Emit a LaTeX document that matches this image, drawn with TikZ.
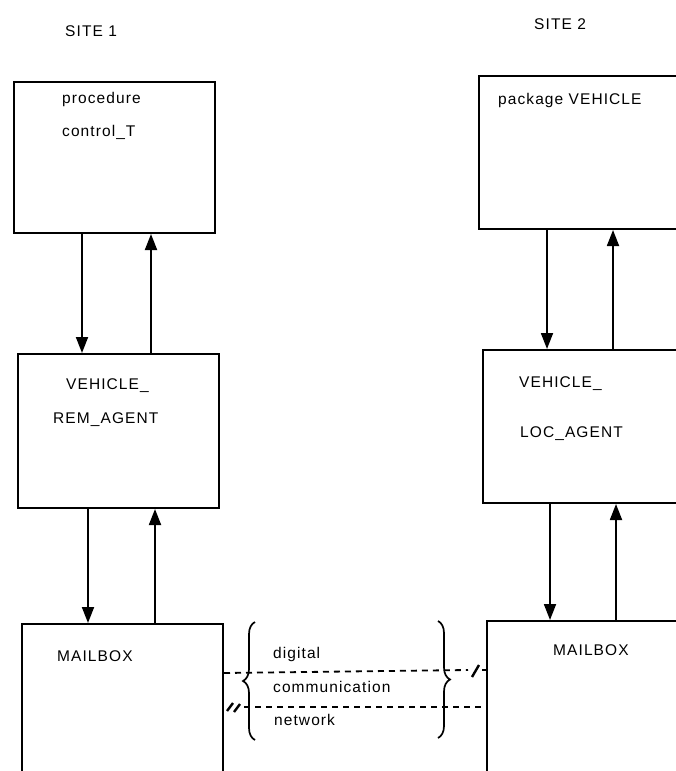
\documentclass[tikz,border=0pt]{standalone}
\usepackage{fontspec}
\setmainfont{Liberation Sans}[LetterSpace=7]
\usetikzlibrary{arrows.meta,decorations.pathreplacing}
\tikzset{
  box/.style={draw, line width=2pt, inner sep=0pt, anchor=north west},
  txt/.style={font=\fontsize{15.5}{18}\selectfont, inner sep=0pt, anchor=base west},
  arr/.style={line width=1.8pt, -{Triangle[length=16pt,width=12pt]}},
  net/.style={line width=1.8pt, dash pattern=on 6pt off 5pt},
  brk/.style={line width=2.4pt},
  brc/.style={line width=1.7pt, decorate, decoration={brace, amplitude=12pt}}
}
\begin{document}
\begin{tikzpicture}[x=1pt,y=-1pt]
\useasboundingbox (0,0) rectangle (676,771);
\clip (0,0) rectangle (676,771);
% site labels
\node[txt] (s1) at (65,36) {SITE 1};
\node[txt] (s2) at (534,29) {SITE 2};
% boxes site 1
\node[box, minimum width=201pt, minimum height=151pt] (p1) at (13,81) {};
\node[box, minimum width=201pt, minimum height=154pt] (r1) at (17,353) {};
\node[box, minimum width=201pt, minimum height=200pt] (m1) at (21,623) {};
% boxes site 2
\node[box, minimum width=250pt, minimum height=153pt] (p2) at (478,75) {};
\node[box, minimum width=250pt, minimum height=153pt] (a2) at (482,349) {};
\node[box, minimum width=250pt, minimum height=200pt] (m2) at (486,620) {};
% texts
\node[txt] (t1) at (62,103) {procedure};
\node[txt] (t2) at (62,136) {control\_T};
\node[txt] (t3) at (66,389) {VEHICLE\_};
\node[txt] (t4) at (53,423) {REM\_AGENT};
\node[txt] (t5) at (57,661) {MAILBOX};
\node[txt] (t6) at (498,104) {package VEHICLE};
\node[txt] (t7) at (519,387) {VEHICLE\_};
\node[txt] (t8) at (520,437) {LOC\_AGENT};
\node[txt] (t9) at (553,655) {MAILBOX};
\node[txt] (n1) at (273,658) {digital};
\node[txt] (n2) at (273,692) {communication};
\node[txt] (n3) at (274,725) {network};
% arrow x positions
\coordinate (xa) at (82,0);
\coordinate (xb) at (151,0);
\coordinate (xc) at (88,0);
\coordinate (xd) at (155,0);
\coordinate (xe) at (547,0);
\coordinate (xf) at (613,0);
\coordinate (xg) at (550,0);
\coordinate (xh) at (616,0);
\draw[arr] (p1.south -| xa) -- (r1.north -| xa);
\draw[arr] (r1.north -| xb) -- (p1.south -| xb);
\draw[arr] (r1.south -| xc) -- (m1.north -| xc);
\draw[arr] (m1.north -| xd) -- (r1.south -| xd);
\draw[arr] (p2.south -| xe) -- (a2.north -| xe);
\draw[arr] (a2.north -| xf) -- (p2.south -| xf);
\draw[arr] (a2.south -| xg) -- (m2.north -| xg);
\draw[arr] (m2.north -| xh) -- (a2.south -| xh);
% network lines
\coordinate (ya) at (0,673);
\coordinate (yb) at (0,670);
\coordinate (yc) at (0,707);
\coordinate (xs) at (468,0);
\coordinate (xt) at (244,0);
\draw[net] (m1.east |- ya) -- (xs |- yb);
\draw[net] (482,670) -- (m2.west |- yb);
\draw[net] (xt |- yc) -- (m2.west |- yc);
\draw[brk] (472,677) -- (479,665);
\draw[brk] (227,711) -- (233,703);
\draw[brk] (234,712) -- (240,704);
% braces
\draw[brc] (255,740) -- (255,622);
\draw[brc] (438,621) -- (438,738);
\end{tikzpicture}
\end{document}
